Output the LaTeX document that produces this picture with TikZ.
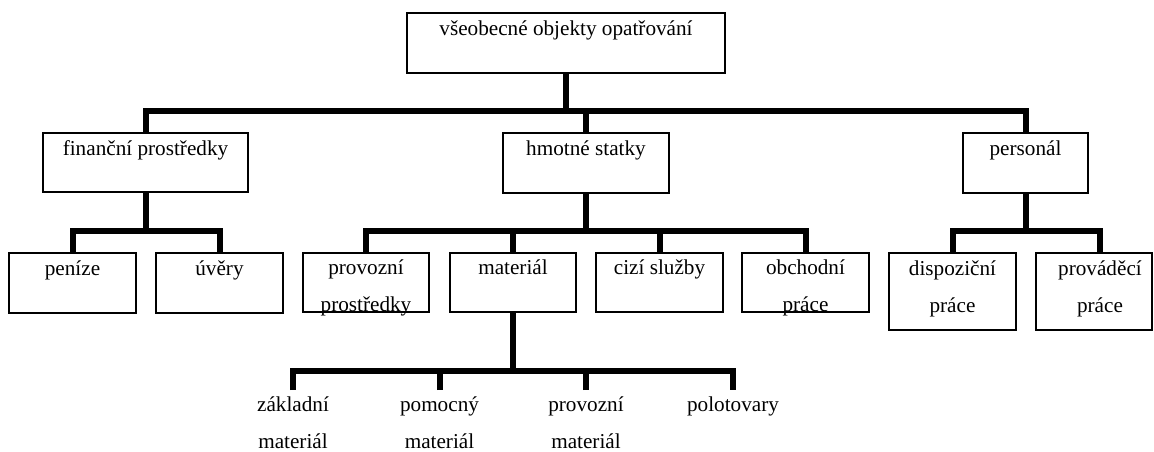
\documentclass[tikz,border=0pt]{standalone}
\usepackage{fontspec}
\setmainfont{Liberation Serif}
\usetikzlibrary{calc}

% two centred lines whose baseline is the first line
\newcommand\twolines[2]{\begin{tabular}[t]{@{}c@{}}#1\\#2\end{tabular}}

\begin{document}
\begin{tikzpicture}[x=1pt,y=-1pt,
  box/.style={draw, line width=1.6pt, rectangle, inner sep=0pt},
  lbl/.style={anchor=base, inner sep=0pt, font=\fontsize{21.2}{37}\selectfont},
  conn/.style={line width=6pt, line join=miter, line cap=butt}]
\useasboundingbox (0,0) rectangle (1154,451);

% level 0
\node[box, minimum width=318pt, minimum height=60pt] (top) at (566,43) {};
\node[lbl] (top-t) at (566,35) {všeobecné objekty opatřování};

% level 1
\node[box, minimum width=205pt, minimum height=59pt] (fin) at (145.5,162.5) {};
\node[lbl] (fin-t) at (145.5,155) {finanční prostředky};
\node[box, minimum width=166pt, minimum height=60pt] (hmot) at (586,163) {};
\node[lbl] (hmot-t) at (586,155) {hmotné statky};
\node[box, minimum width=125pt, minimum height=60pt] (pers) at (1025.5,163) {};
\node[lbl] (pers-t) at (1025.5,155) {personál};

% level 2
\node[box, minimum width=127pt, minimum height=60pt] (pen) at (72.5,283) {};
\node[lbl] (pen-t) at (72.5,275) {peníze};
\node[box, minimum width=127pt, minimum height=60pt] (uv) at (219.5,283) {};
\node[lbl] (uv-t) at (219.5,275) {úvěry};
\node[box, minimum width=126pt, minimum height=59pt] (prov) at (366,282.5) {};
\node[lbl] (prov-t) at (366,274) {\twolines{provozní}{prostředky}};
\node[box, minimum width=126pt, minimum height=59pt] (mat) at (513,282.5) {};
\node[lbl] (mat-t) at (513,274) {materiál};
\node[box, minimum width=127pt, minimum height=59pt] (cizi) at (659.5,282.5) {};
\node[lbl] (cizi-t) at (659.5,274) {cizí služby};
\node[box, minimum width=127pt, minimum height=59pt] (obch) at (805.5,282.5) {};
\node[lbl] (obch-t) at (805.5,274) {\twolines{obchodní}{práce}};
\node[box, minimum width=127pt, minimum height=77pt] (disp) at (952.5,291.5) {};
\node[lbl] (disp-t) at (952.5,275) {\twolines{dispoziční}{práce}};
\node[box, minimum width=116pt, minimum height=77pt] (prac) at (1094,291.5) {};
\node[lbl] (prac-t) at (1100,275) {\twolines{prováděcí}{práce}};
\coordinate (pracx) at (1100,253);

% level 3 (plain labels)
\node[lbl] (zakl) at (293,411) {\twolines{základní}{materiál}};
\node[lbl] (pomo) at (439.5,411) {\twolines{pomocný}{materiál}};
\node[lbl] (provm) at (586,411) {\twolines{provozní}{materiál}};
\node[lbl] (polo) at (733,411) {polotovary};
% free ends of the stems above these labels
\coordinate (zakl-s) at ($(zakl.base)+(0,-21)$);
\coordinate (pomo-s) at ($(pomo.base)+(0,-21)$);
\coordinate (provm-s) at ($(provm.base)+(0,-21)$);
\coordinate (polo-s) at ($(polo.base)+(0,-21)$);

% junction heights of the bars
\coordinate (j0) at (0,111);
\coordinate (j1) at (0,230.5);
\coordinate (j2) at (0,371);

% connectors: top level
\draw[conn] (top.south) -- (top.south |- j0);
\draw[conn] (fin.north) |- (pers.north |- j0) -- (pers.north);
\draw[conn] (hmot.north) -- (hmot.north |- j0);

% finanční prostředky
\draw[conn] (fin.south) -- (fin.south |- j1);
\draw[conn] (pen.north) |- (uv.north |- j1) -- (uv.north);

% hmotné statky
\draw[conn] (hmot.south) -- (hmot.south |- j1);
\draw[conn] (prov.north) |- (obch.north |- j1) -- (obch.north);
\draw[conn] (mat.north) -- (mat.north |- j1);
\draw[conn] (cizi.north) -- (cizi.north |- j1);

% personál
\draw[conn] (pers.south) -- (pers.south |- j1);
\draw[conn] (disp.north) |- (pracx |- j1) -- (pracx);

% materiál
\draw[conn] (mat.south) -- (mat.south |- j2);
\draw[conn] (zakl-s) |- (polo-s |- j2) -- (polo-s);
\draw[conn] (pomo-s) -- (pomo-s |- j2);
\draw[conn] (provm-s) -- (provm-s |- j2);
\end{tikzpicture}
\end{document}
